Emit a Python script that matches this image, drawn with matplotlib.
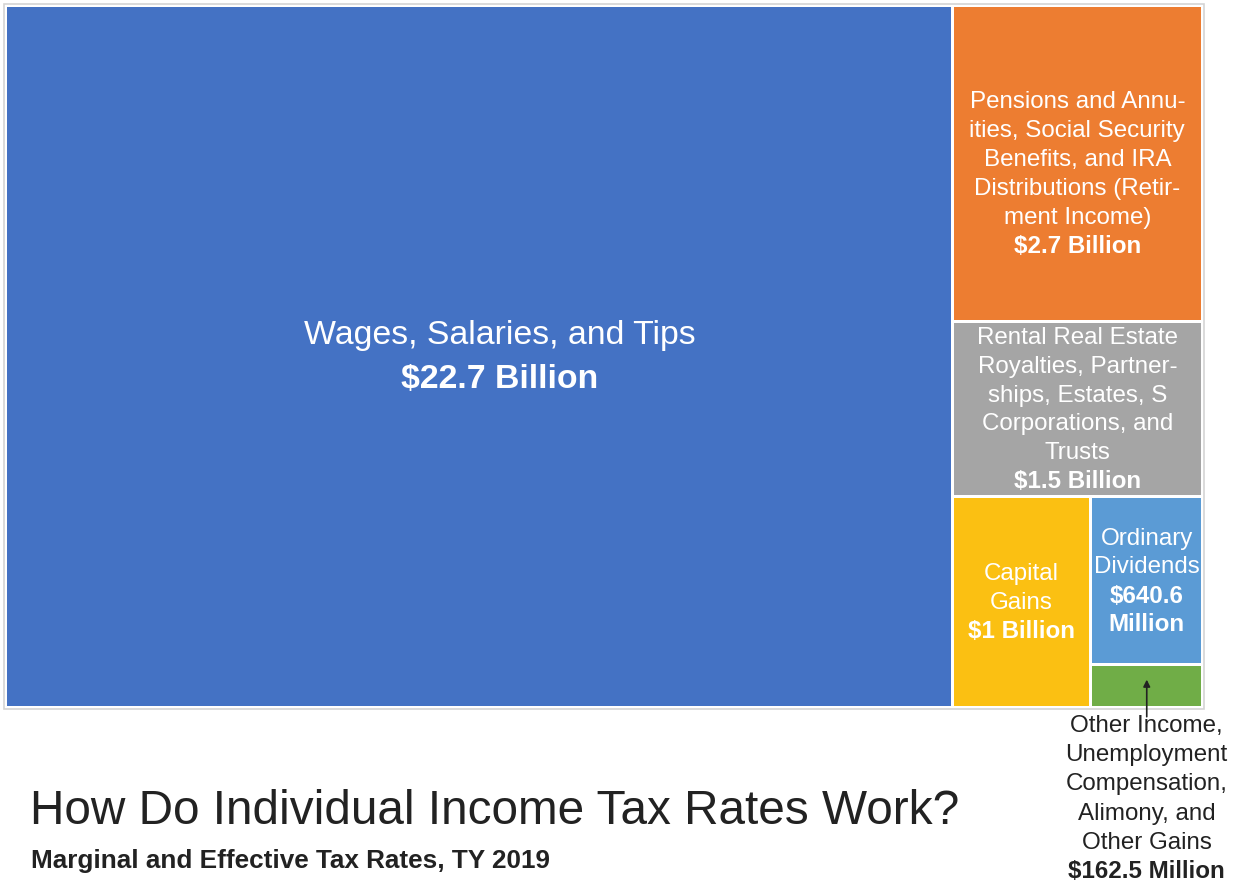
import matplotlib
matplotlib.use('Agg')
import matplotlib.pyplot as plt
from matplotlib.patches import Rectangle

plt.rcParams['font.family'] = ['Liberation Sans', 'DejaVu Sans']

# Income sources (billions of dollars)
labels = [
    'Wages, Salaries, and Tips',
    'Pensions and Annu-\nities, Social Security\nBenefits, and IRA\nDistributions (Retir-\nment Income)',
    'Rental Real Estate\nRoyalties, Partner-\nships, Estates, S\nCorporations, and\nTrusts',
    'Capital\nGains',
    'Ordinary\nDividends',
    'Other Income,\nUnemployment\nCompensation,\nAlimony, and\nOther Gains',
]
values = [22.7, 2.7, 1.5, 1.0, 0.6406, 0.1625]
value_text = ['$22.7 Billion', '$2.7 Billion', '$1.5 Billion', '$1 Billion',
              '$640.6\nMillion', '$162.5 Million']
colors = ['#4472C4', '#ED7D31', '#A5A5A5', '#FBC012', '#5B9BD5', '#70AD47']

title = 'How Do Individual Income Tax Rates Work?'
subtitle = 'Marginal and Effective Tax Rates, TY 2019'


def _worst(row, w):
    s = sum(row)
    return max(max(w * w * r / (s * s), s * s / (w * w * r)) for r in row)


# Plain squarified treemap layout (y grows downward)
def squarify(vals, x, y, dx, dy):
    total = sum(vals)
    areas = [v * dx * dy / total for v in vals]
    rects = []
    while areas:
        w = min(dx, dy)
        row = [areas[0]]
        i = 1
        while i < len(areas) and _worst(row + [areas[i]], w) <= _worst(row, w):
            row.append(areas[i])
            i += 1
        s = sum(row)
        if dx >= dy:
            rw = s / dy
            yy = y
            for a in row:
                h = a / rw
                rects.append((x, yy, rw, h))
                yy += h
            x += rw
            dx -= rw
        else:
            rh = s / dx
            xx = x
            for a in row:
                ww = a / rh
                rects.append((xx, y, ww, rh))
                xx += ww
            y += rh
            dy -= rh
        areas = areas[i:]
    return rects


W, H = 1233, 884
fig = plt.figure(figsize=(W / 100, H / 100), dpi=100)
ax = fig.add_axes([0, 0, 1, 1])
ax.set_xlim(0, W)
ax.set_ylim(H, 0)
ax.axis('off')

# outer frame
box = (4, 4, 1200, 705)
ax.add_patch(Rectangle(box[:2], box[2], box[3], fill=False,
                       edgecolor='#D4D4D4', linewidth=1.2))

pad = 1.5
rects = squarify(values, box[0] + pad, box[1] + pad, box[2] - 2 * pad, box[3] - 2 * pad)
gap = 1.5
for i, (x, y, w, h) in enumerate(rects):
    ax.add_patch(Rectangle((x + gap, y + gap), w - 2 * gap, h - 2 * gap,
                           facecolor=colors[i], edgecolor='none'))

# labels inside tiles
fs_big = 24.4
fs = 17.4
txt_col = '#222222'
cx, cy = rects[0][0] + rects[0][2] / 2 + 21, rects[0][1] + rects[0][3] / 2
ax.text(cx, cy - 21, labels[0], ha='center', va='center', color='white', fontsize=fs_big)
ax.text(cx, cy + 23, value_text[0], ha='center', va='center', color='white',
        fontsize=fs_big, fontweight='bold')

for i in range(1, 5):
    x, y, w, h = rects[i]
    cx, cy = x + w / 2, y + h / 2 + 1
    if i == 1:
        cy += 10
    nl = labels[i].count('\n') + 1
    nv = value_text[i].count('\n') + 1
    step = 28.8
    n = nl + nv
    top = cy - (n - 1) * step / 2
    for j, line in enumerate(labels[i].split('\n')):
        ax.text(cx, top + j * step, line, ha='center', va='center', color='white', fontsize=fs)
    for j, line in enumerate(value_text[i].split('\n')):
        ax.text(cx, top + (nl + j) * step, line, ha='center', va='center', color='white',
                fontsize=fs, fontweight='bold')

# smallest tile: label outside with arrow
x, y, w, h = rects[5]
cx = x + w / 2
ax.annotate('', xy=(cx, y + 12), xytext=(cx, y + h + 12),
            arrowprops=dict(arrowstyle='-|>', color=txt_col, lw=1.2, mutation_scale=10))
step = 29.2
lines = labels[5].split('\n')
ty = 726
for j, line in enumerate(lines):
    ax.text(cx, ty + j * step, line, ha='center', va='center', color=txt_col, fontsize=fs)
ax.text(cx, ty + len(lines) * step, value_text[5], ha='center', va='center',
        color=txt_col, fontsize=fs, fontweight='bold')

ax.text(30, 811, title, ha='left', va='center', color=txt_col, fontsize=34.4)
ax.text(31, 861, subtitle, ha='left', va='center', color=txt_col, fontsize=18.8,
        fontweight='bold')

fig.savefig('out.png', dpi=100)
